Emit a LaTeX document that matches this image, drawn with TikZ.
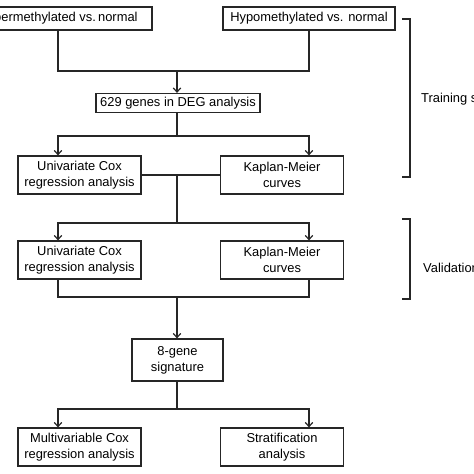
\documentclass[tikz,border=0pt]{standalone}
\usepackage{fontspec}
\setmainfont{Liberation Sans}
\usetikzlibrary{arrows.meta,positioning,calc}

\begin{document}
\begin{tikzpicture}[x=1pt, y=-1pt, every node/.style={font=\fontsize{12.9}{16}\selectfont}, box/.style={rectangle, draw=black!85, line width=1.3pt, align=center, inner sep=0pt}, rowbox/.style={box, minimum width=123pt, minimum height=38pt}, line/.style={draw=black!85, line width=1.3pt}, arrow/.style={line, -{Straight Barb[length=4pt,width=7.5pt,line width=1.2pt]}}]
\clip (0,0) rectangle (474,474);
\node[box, minimum width=188pt, minimum height=23pt] (hyper) at (58,18.5) {Hypermethylated vs.\,normal};
\node[box, minimum width=172pt, minimum height=23pt] (hypo) at (309,18.5) {Hypomethylated vs. normal};
\node[box, minimum width=164pt, minimum height=19pt] (deg) at (178,103) {629 genes in DEG analysis};
\node[rowbox] (uni1) at (79.5,175) {Univariate Cox\\regression analysis};
\node[rowbox] (km1) at (282,175) {Kaplan-Meier\\curves};
\node[rowbox] (uni2) at (79.5,260) {Univariate Cox\\regression analysis};
\node[rowbox] (km2) at (282,260) {Kaplan-Meier\\curves};
\node[box, minimum width=91pt, minimum height=42pt] (sig) at (177.5,360) {8-gene\\signature};
\node[rowbox] (multi) at (79.5,447) {Multivariable Cox\\regression analysis};
\node[rowbox] (strat) at (282,447) {Stratification\\analysis};
% junctions
\coordinate (j1) at (177,71);
\coordinate (j2) at (177,136);
\coordinate (j3) at (177,223);
\coordinate (j4) at (177,297);
\coordinate (j5) at (177,409);
\draw[line] (hyper.south) |- (j1) -| (hypo.south);
\draw[arrow] (j1) -- (deg.north -| j1);
\draw[line] (deg.south -| j2) -- (j2);
\draw[arrow] (j2) -| (uni1.north -| hyper.south);
\draw[arrow] (j2) -| (km1.north -| hypo.south);
\draw[line] (uni1.east) -- (km1.west);
\draw[line] (uni1.east -| j3) -- (j3);
\draw[arrow] (j3) -| (uni2.north -| hyper.south);
\draw[arrow] (j3) -| (km2.north -| hypo.south);
\draw[line] (uni2.south -| hyper.south) |- (j4) -| (km2.south -| hypo.south);
\draw[arrow] (j4) -- (sig.north -| j4);
\draw[line] (sig.south -| j5) -- (j5);
\draw[arrow] (j5) -| (multi.north -| hyper.south);
\draw[arrow] (j5) -| (strat.north -| hypo.south);
% set brackets
\draw[line] (402,19) -- (410,19) -- (410,177) -- (402,177);
\draw[line] (402,219) -- (410,219) -- (410,299) -- (402,299);
\node[anchor=west, inner sep=0pt] (train) at (421,99) {Training set};
\node[anchor=west, inner sep=0pt] (valid) at (423,268) {Validation set};
\end{tikzpicture}
\end{document}
